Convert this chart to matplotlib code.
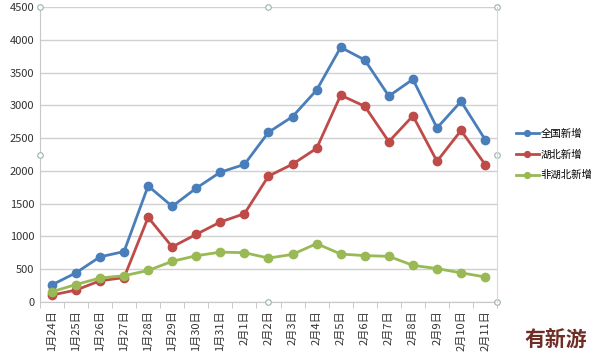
import numpy as np
import matplotlib
matplotlib.use("Agg")
from matplotlib import pyplot as plt

plt.rcParams['font.family'] = ['Noto Sans CJK SC', 'DejaVu Sans']

# Data
dates = ["1月24日", "1月25日", "1月26日", "1月27日", "1月28日", "1月29日", "1月30日",
         "1月31日", "2月1日", "2月2日", "2月3日", "2月4日", "2月5日", "2月6日",
         "2月7日", "2月8日", "2月9日", "2月10日", "2月11日"]
national = [259, 444, 688, 769, 1771, 1459, 1737, 1981, 2099, 2590, 2829, 3235,
            3887, 3694, 3143, 3399, 2656, 3062, 2478]
hubei = [105, 180, 323, 371, 1291, 840, 1032, 1220, 1347, 1921, 2103, 2345,
         3156, 2987, 2447, 2841, 2147, 2618, 2097]
non_hubei = [155, 265, 365, 400, 480, 620, 705, 760, 752, 669, 726, 890,
             731, 707, 696, 558, 509, 444, 381]
labels = ["全国新增", "湖北新增", "非湖北新增"]
colors = ["#4a7ebb", "#be4b48", "#98b954"]

fig = plt.figure(figsize=(5.94, 3.59), dpi=100)
ax = fig.add_axes([0.067, 0.159, 0.77, 0.821])

x = np.arange(len(dates))
for ys, lab, c in zip([national, hubei, non_hubei], labels, colors):
    ax.plot(x, ys, color=c, lw=2, marker='o', ms=6, label=lab)

ax.set_xlim(-0.5, len(dates) - 0.5)
ax.set_ylim(0, 4500)
ax.set_yticks(np.arange(0, 4501, 500))
ax.yaxis.grid(True, color="#d0d0d0", lw=1)
ax.set_axisbelow(True)
ax.tick_params(axis='y', length=0, labelsize=8, colors="#333333", pad=4)

ax.set_xticks(x)
ax.set_xticklabels(dates, rotation=90, fontsize=8, color="#333333")
ax.set_xticks(np.arange(-0.5, len(dates)), minor=True)
ax.tick_params(axis='x', which='major', length=0, pad=6)
ax.tick_params(axis='x', which='minor', length=4, color="#c0c0c0")

for s in ['top', 'right']:
    ax.spines[s].set_visible(False)
ax.spines['left'].set_color("#c8c8c8")
ax.spines['bottom'].set_color("#c8c8c8")

# chart frame handles
hx = [0.067, 0.452, 0.837, 0.067, 0.837, 0.452, 0.837]
hy = [0.980, 0.980, 0.980, 0.568, 0.568, 0.159, 0.159]
fig.add_artist(plt.Line2D(hx, hy, ls='none', marker='o', ms=4, mfc='white',
                          mec="#9ab0b0", mew=0.8, transform=fig.transFigure))
fig.add_artist(plt.Line2D([0.837, 0.837], [0.159, 0.980], color="#d8d8d8", lw=0.8,
                          transform=fig.transFigure))

ax.legend(loc='center left', bbox_to_anchor=(1.02, 0.5), frameon=False,
          fontsize=7.5, handlelength=2.2, handletextpad=0.2, labelspacing=1.0,
          markerscale=0.7)

fig.text(0.935, 0.055, "有新游", fontsize=15, fontweight='bold', color="#6e2e26",
         ha='center', va='center')

fig.savefig("out.png", dpi=100)
